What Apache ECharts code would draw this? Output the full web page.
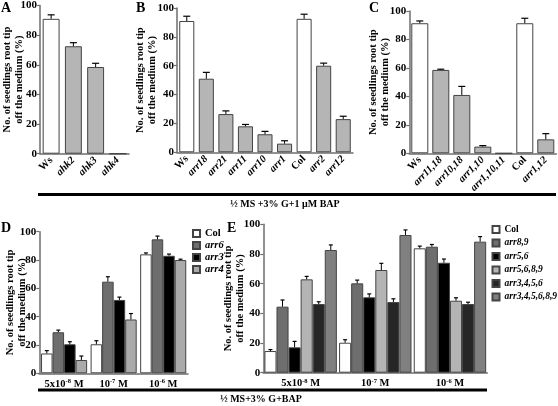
<!DOCTYPE html>
<html><head><meta charset="utf-8">
<script src="https://cdn.jsdelivr.net/npm/echarts@6/dist/echarts.min.js"></script>
<style>html,body{margin:0;padding:0;background:#fff}#c{width:558px;height:406px}</style>
</head><body><div id="c"></div>
<script>
// ---- data ----
const catsA = ['Ws', 'ahk2', 'ahk3', 'ahk4'];
const valsA = [91, 72.5, 58.5, 0];
const errA  = [2.7, 2.4, 2.5, 0];

const catsB = ['Ws', 'arr18', 'arr21', 'arr11', 'arr10', 'arr1', 'Col', 'arr2', 'arr12'];
const valsB = [91, 51, 26.5, 18, 12.5, 6, 92.5, 60, 23];
const errB  = [3.3, 4.4, 2.2, 1.3, 2, 2, 3.2, 1.8, 2];

const catsC = ['Ws', 'arr11,18', 'arr10,18', 'arr1,10', 'arr1,10,11', 'Col', 'arr1,12'];
const valsC = [91.4, 58.6, 41, 4.7, 0, 91.4, 9.8];
const errC  = [1.6, 0.5, 6, 0.7, 0, 3.5, 4];

const doses = ['5x10-8', '10-7', '10-6'];

const namesD = ['Col', 'arr6', 'arr3', 'arr4'];
const dCol  = [14, 20.5, 84];   const dColErr  = [2, 2.5, 1];
const dArr6 = [29, 64.7, 94.6]; const dArr6Err = [1.5, 3.5, 2.3];
const dArr3 = [20.5, 51.8, 83]; const dArr3Err = [1.8, 2, 1.2];
const dArr4 = [9.4, 38, 80];    const dArr4Err = [2.8, 4.2, 0.6];

const namesE = ['Col', 'arr8,9', 'arr5,6', 'arr5,6,8,9', 'arr3,4,5,6', 'arr3,4,5,6,8,9'];
const eCol     = [14.6, 20.2, 83.8]; const eColErr     = [1, 2, 1.5];
const eArr89   = [44.5, 60.2, 84.9]; const eArr89Err   = [4.5, 2.2, 1.5];
const eArr56   = [17.1, 50.8, 74.1]; const eArr56Err   = [4, 2.3, 2.5];
const eArr5689 = [62.9, 69.2, 48.5]; const eArr5689Err = [2, 4.5, 2];
const eArr3456 = [46.3, 47.6, 46.3]; const eArr3456Err = [1.5, 2.2, 1.2];
const eArrAll  = [82.7, 92.8, 88.3]; const eArrAllErr  = [3.4, 3.4, 3.4];

const yTitle = 'No. of seedlings root tip\noff the medium (%)';
const topNote = '½ MS +3% G+1 μM BAP';
const bottomNote = '½ MS+3% G+BAP';

// ---- styles ----
const FF = "'Liberation Serif','Times New Roman',serif";
const AX = '#6e6e6e';
const BORDER = '#444';
const GRAY = '#b5b5b5';
const colD = ['#ffffff', '#6e6e6e', '#000000', '#aaaaaa'];
const colE = ['#ffffff', '#6e6e6e', '#000000', '#b4b4b4', '#262626', '#808080'];

const grids = [
  {left: 40, top: 4, width: 89, height: 149.7},
  {left: 177, top: 8, width: 176, height: 144.3},
  {left: 409.3, top: 11, width: 147, height: 142.3},
  {left: 39.3, top: 231.7, width: 148.7, height: 141.6},
  {left: 263.3, top: 224.3, width: 224, height: 148.4}
];
const nameGaps = [15, 19, 18, 11, 17];

function isPlain(n){ return n === 'Ws' || n === 'Col'; }
const geneRich = {
  n: {fontFamily: FF, fontWeight: 'bold', fontSize: 10.5, color: '#000'},
  i: {fontFamily: FF, fontWeight: 'bold', fontStyle: 'italic', fontSize: 10.5, color: '#000'}
};
const doseRich = {
  b: {fontFamily: FF, fontWeight: 'bold', fontSize: 10.5, color: '#000', verticalAlign: 'bottom'},
  s: {fontFamily: FF, fontWeight: 'bold', fontSize: 6.5, color: '#000', verticalAlign: 'top', padding: [0, 0, 4, 0]}
};

const xAxes = [catsA, catsB, catsC, doses, doses].map((cats, i) => ({
  type: 'category', gridIndex: i, data: cats,
  axisLine: {lineStyle: {color: AX, width: 1.5}},
  axisTick: {show: false},
  axisLabel: i < 3 ? {
    rotate: 45, margin: 5, interval: 0,
    formatter: v => isPlain(v) ? '{n|' + v + '}' : '{i|' + v + '}',
    rich: geneRich
  } : {
    margin: 5, interval: 0,
    formatter: v => { const p = v.split('10'); return '{b|' + p[0] + '10}{s|' + p[1] + '}{b| M}'; },
    rich: doseRich
  }
}));

const yAxes = grids.map((g, i) => ({
  type: 'value', gridIndex: i, min: 0, max: 100, interval: 20,
  axisLine: {show: true, lineStyle: {color: AX, width: 1.5}},
  axisTick: {show: true, length: 3, lineStyle: {color: AX, width: 1.2}},
  splitLine: {show: false},
  axisLabel: {fontFamily: FF, fontWeight: 'bold', fontSize: 11, color: '#000', margin: 3},
  name: yTitle, nameLocation: 'middle', nameRotate: 90, nameGap: nameGaps[i],
  nameMoveOverlap: false,
  nameTextStyle: {fontFamily: FF, fontWeight: 'bold', fontSize: 10.5, lineHeight: 12, color: '#000', align: 'center'}
}));

function errSeries(ai, vals, errs, idx, n, gap, capW){
  return {
    type: 'custom', xAxisIndex: ai, yAxisIndex: ai, z: 10,
    data: vals.map((v, i) => [i, v, errs[i]]),
    encode: {x: 0, y: 1},
    renderItem: function(params, api){
      const e = api.value(2);
      if (!e) return null;
      const catW = api.size([1, 0])[0];
      const bw = catW * (1 - gap) / n;
      const off = (idx - (n - 1) / 2) * bw;
      const p0 = api.coord([api.value(0), api.value(1)]);
      const p1 = api.coord([api.value(0), api.value(1) + e]);
      const x = p0[0] + off;
      return {type: 'group', children: [
        {type: 'line', shape: {x1: x, y1: p0[1], x2: x, y2: p1[1]}, style: {stroke: '#000', lineWidth: 1}},
        {type: 'line', shape: {x1: x - capW / 2, y1: p1[1], x2: x + capW / 2, y2: p1[1]}, style: {stroke: '#000', lineWidth: 1.2}}
      ]};
    }
  };
}

const series = [];
function simple(ai, cats, vals, errs, gap){
  series.push({
    type: 'bar', xAxisIndex: ai, yAxisIndex: ai, barCategoryGap: (gap * 100) + '%',
    data: vals.map((v, i) => ({value: v, itemStyle: {color: isPlain(cats[i]) ? '#fff' : GRAY}})),
    itemStyle: {borderColor: BORDER, borderWidth: 1}
  });
  series.push(errSeries(ai, vals, errs, 0, 1, gap, 7));
}
simple(0, catsA, valsA, errA, 0.24);
simple(1, catsB, valsB, errB, 0.23);
simple(2, catsC, valsC, errC, 0.19);

function grouped(ai, names, valsList, errList, colors, gap, cap){
  names.forEach((nm, k) => {
    series.push({
      name: nm, type: 'bar', xAxisIndex: ai, yAxisIndex: ai,
      barGap: '0%', barCategoryGap: (gap * 100) + '%',
      data: valsList[k],
      itemStyle: {color: colors[k], borderColor: BORDER, borderWidth: 1}
    });
  });
  names.forEach((nm, k) => series.push(errSeries(ai, valsList[k], errList[k], k, names.length, gap, cap)));
}
grouped(3, namesD, [dCol, dArr6, dArr3, dArr4], [dColErr, dArr6Err, dArr3Err, dArr4Err], colD, 0.07, 4);
grouped(4, namesE, [eCol, eArr89, eArr56, eArr5689, eArr3456, eArrAll],
  [eColErr, eArr89Err, eArr56Err, eArr5689Err, eArr3456Err, eArrAllErr], colE, 0.03, 4);

function legend(left, top, names, lh, gapPx, fs){
  const rich = {
    n: {fontFamily: FF, fontWeight: 'bold', fontSize: fs, color: '#000', lineHeight: lh},
    i: {fontFamily: FF, fontWeight: 'bold', fontStyle: 'italic', fontSize: fs, color: '#000', lineHeight: lh}
  };
  return {
    orient: 'vertical', left: left, top: top, data: names, icon: 'rect',
    itemWidth: 7, itemHeight: 7, itemGap: gapPx, padding: 0, selectedMode: false,
    formatter: n => isPlain(n) ? '{n|' + n + '}' : '{i|' + n + '}',
    textStyle: {rich: rich, lineHeight: lh}
  };
}

const letter = (t, x, y) => ({type: 'text', x: x, y: y, style: {text: t, font: 'bold 14px ' + FF, fill: '#000', textAlign: 'left', textVerticalAlign: 'top'}});

const option = {
  animation: false,
  backgroundColor: '#fff',
  grid: grids,
  xAxis: xAxes,
  yAxis: yAxes,
  legend: [legend(192, 228, namesD, 10, 1, 10.5), legend(491.5, 224, namesE, 11, 2.5, 9.5)],
  series: series,
  graphic: [
    letter('A', 1, 1), letter('B', 136, 1), letter('C', 369, 1), letter('D', 1, 221), letter('E', 227, 221),
    {type: 'line', shape: {x1: 38, y1: 194.5, x2: 556, y2: 194.5}, style: {stroke: '#000', lineWidth: 3}},
    {type: 'line', shape: {x1: 38, y1: 390, x2: 487, y2: 390}, style: {stroke: '#000', lineWidth: 3}},
    {type: 'text', x: 285, y: 204, style: {text: topNote, font: 'bold 10px ' + FF, fill: '#000', textAlign: 'center', textVerticalAlign: 'middle'}},
    {type: 'text', x: 261, y: 399, style: {text: bottomNote, font: 'bold 10px ' + FF, fill: '#000', textAlign: 'center', textVerticalAlign: 'middle'}}
  ]
};
const chart = echarts.init(document.getElementById('c'), null, {renderer: 'canvas'});
chart.setOption(option);
</script>
</body></html>
